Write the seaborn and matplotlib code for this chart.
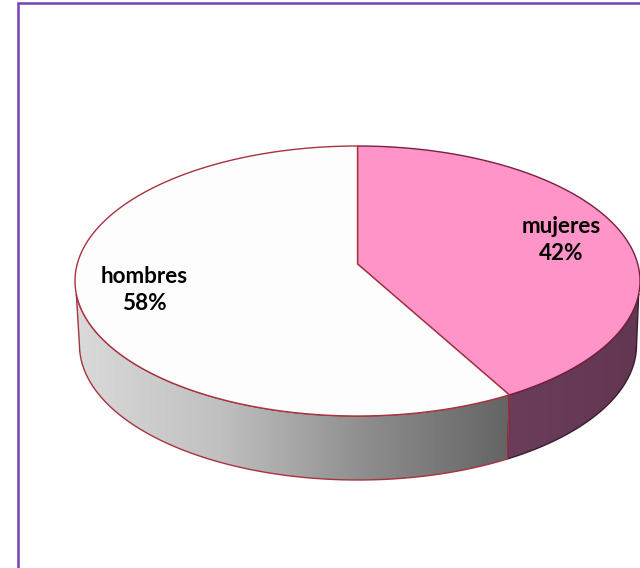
import numpy as np
import matplotlib
matplotlib.use("Agg")
import matplotlib.pyplot as plt
from matplotlib.patches import Polygon
import seaborn as sns

labels = ["mujeres", "hombres"]
shares = [42, 58]
top_colors = ["#ff94c8", "#fdfdfd"]
rim_colors = ["#7a1f3c", "#a8323f"]
wall_colors = [["#6a3d5a", "#633752"], ["#dadada", "#c0c0c0", "#8e8e8e", "#646464"]]
wall_edges = ["#3a1c30", "#a8323f"]
label_pos = [(561, 240), (144, 290)]

sns.set_theme(style="white")
plt.rcParams["font.family"] = ["Lato", "DejaVu Sans"]

# ellipses in picture pixels (cx, cy, a, b), k = perspective shift of the pie centre
top_ell = (357.5, 281, 282.5, 135)
bot_ell = (358, 345, 278.5, 135)
k = 0.126


def project(deg, ell):
    # deg clockwise from 12 o'clock, true pie angle to perspective ellipse
    t = np.radians(deg)
    x, y = np.sin(t), np.cos(t)
    d = 1 + k * y
    xp = x * np.sqrt(1 - k ** 2) / d
    yp = (y + k) / d
    return ell[0] + ell[2] * xp, ell[1] - ell[3] * yp, yp


fig = plt.figure(figsize=(6.4, 5.68), dpi=100)
ax = fig.add_axes([0, 0, 1, 1])

edges = np.concatenate([[0], np.cumsum(shares)]) * 3.6
apex = (top_ell[0], top_ell[1] - top_ell[3] * k)

# side walls first, so the top face sits over them
for i in range(len(shares)):
    deg = np.linspace(edges[i], edges[i + 1], 300)
    tx, ty, tp = project(deg, top_ell)
    bx, by, bp = project(deg, bot_ell)
    tm = tp <= -0.09
    bm = bp <= 0
    xy = np.column_stack([np.r_[tx[tm], bx[bm][::-1]], np.r_[ty[tm], by[bm][::-1]]])
    poly = Polygon(xy, closed=True, facecolor="none", edgecolor=wall_edges[i], lw=1.0, zorder=3)
    ax.add_patch(poly)
    cmap = sns.blend_palette(wall_colors[i], as_cmap=True)
    im = ax.imshow(np.linspace(0, 1, 256)[None, :], cmap=cmap, aspect="auto", zorder=2,
                   extent=(xy[:, 0].min(), xy[:, 0].max(), xy[:, 1].max(), xy[:, 1].min()))
    im.set_clip_path(poly)

# top face
for i in range(len(shares)):
    deg = np.linspace(edges[i], edges[i + 1], 300)
    tx, ty, _ = project(deg, top_ell)
    xy = np.vstack([[apex], np.column_stack([tx, ty])])
    ax.add_patch(Polygon(xy, closed=True, facecolor=top_colors[i], edgecolor=rim_colors[i], lw=1.0, zorder=4))
    ax.text(label_pos[i][0], label_pos[i][1], f"{labels[i]}\n{shares[i]}%", ha="center", va="center",
            fontsize=16.2, fontweight="bold", color="black", linespacing=1.32, zorder=5)

# outer purple frame, left and top only
ax.plot([17.5, 17.5, 640], [568, 2.5, 2.5], color="#7b3fb5", lw=1.8, zorder=6, solid_joinstyle="miter")

ax.set_xlim(0, 640)
ax.set_ylim(568, 0)
ax.axis("off")
fig.savefig("out.png", dpi=100)
